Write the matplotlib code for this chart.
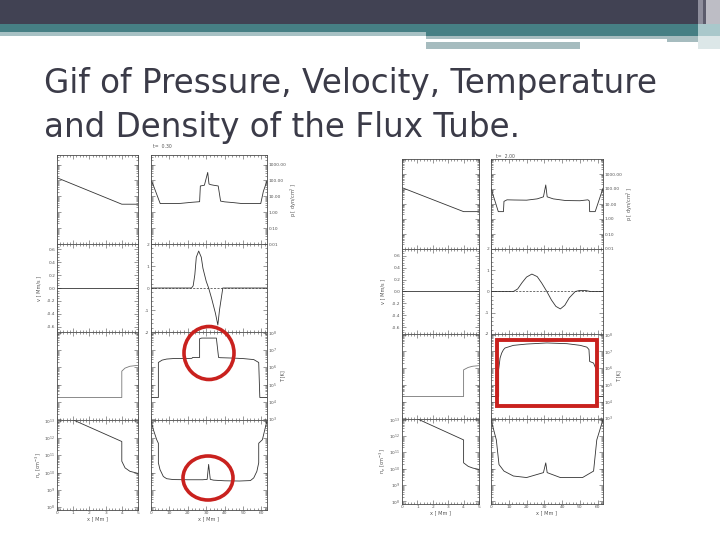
import numpy as np
import matplotlib
matplotlib.use("Agg")
import matplotlib.pyplot as plt
from matplotlib.patches import Rectangle, Ellipse
from matplotlib.ticker import (AutoMinorLocator, LogLocator, FixedLocator, FuncFormatter,
                               LogFormatterMathtext, MultipleLocator)

W, H = 720, 540

# ---------------- data (x in Mm) ----------------
# t = 0.30, chromosphere zoom (0-5 Mm)
x_p_zoom_a = [0, 4, 5]
p_zoom_a = [148, 3.2, 3.2]
x_v_zoom_a = [0, 5]
v_zoom_a = [0, 0]
x_T_zoom_a = [0, 4, 4, 4.2, 4.5, 5]
T_zoom_a = [1.8e4, 1.8e4, 6e5, 9e5, 1.15e6, 1.3e6]
x_n_zoom_a = [0, 4, 4, 4.2, 4.5, 5]
n_zoom_a = [2.9e13, 6.3e11, 4.6e10, 1.9e10, 1.2e10, 9.1e9]

# t = 0.30, full loop
x_p_a = [0, 1, 5, 10, 16, 22, 26.4, 26.8, 29, 30.8, 31.5, 32.2, 34, 36.5, 37.8, 40, 45, 49.5, 55, 59.6, 61, 63]
p_a = [95, 60, 3.5, 3.5, 3.6, 4.2, 4.6, 45, 50, 320, 60, 55, 50, 45, 5, 4.5, 4, 3.5, 3.5, 3.5, 20, 95]
x_v_a = [0, 22, 22.9, 23.8, 24.6, 25.9, 27.3, 28.2, 30, 31.3, 33, 35, 36.3, 37.2, 38.2, 39, 63]
v_a = [0, 0, 0.1, 0.6, 1.4, 1.68, 1.4, 0.9, 0.3, 0, -0.5, -1.15, -1.68, -1.0, -0.45, 0, 0]
x_T_a = [0, 4, 4, 6, 8.5, 12, 18, 22.2, 22.6, 26.4, 26.4, 27.5, 35.5, 36.7, 37.6, 45, 50, 55.8, 58.5, 59.1, 63]
T_a = [1.8e4, 1.8e4, 1.9e6, 2.6e6, 3.0e6, 3.2e6, 3.2e6, 3.3e6, 3.7e6, 3.7e6, 4.5e7, 4.9e7, 4.9e7,
       3.7e6, 3.6e6, 3.4e6, 3.2e6, 2.8e6, 1.9e6, 1.8e4, 1.8e4]
x_n_a = [0, 1.3, 3.1, 4, 4, 4.9, 6.7, 8.5, 12, 20, 28, 30.5, 31.3, 32.2, 34, 40, 48, 54, 55.8, 57.5, 58.5, 58.5,
         60.5, 61.8, 63]
n_a = [1e13, 3e12, 8e11, 5e11, 3.7e10, 1.5e10, 6e9, 4.5e9, 4e9, 3.9e9, 3.9e9, 4.1e9, 3e10, 4.1e9, 3.7e9,
       3.4e9, 3.3e9, 3.5e9, 5e9, 1.2e10, 3.7e10, 5e11, 8e11, 3e12, 1e13]

# t = 2.00, chromosphere zoom (0-5 Mm)
x_p_zoom_b = [0, 4, 5]
p_zoom_b = [123, 3.1, 3.1]
x_v_zoom_b = [0, 5]
v_zoom_b = [0, 0]
x_T_zoom_b = [0, 4, 4, 4.3, 4.6, 5]
T_zoom_b = [2e4, 2e4, 7.9e5, 1.1e6, 1.3e6, 1.4e6]
x_n_zoom_b = [0, 4, 4, 4.3, 4.6, 5]
n_zoom_b = [3e13, 5.8e11, 2.3e10, 1.4e10, 1.1e10, 9.1e9]

# t = 2.00, full loop
x_p_b = [0, 4.1, 7, 7.3, 9, 13, 20, 26, 29.5, 30.8, 31.6, 35, 42, 50, 54.5, 55.3, 55.5, 58.6, 63]
p_b = [112, 3.1, 3.1, 15, 19, 18.5, 18, 22, 30, 186, 30, 22, 17, 16.5, 19, 16, 3.1, 3.1, 112]
x_v_b = [0, 12.6, 15, 17.5, 20, 23, 26, 28.5, 31.4, 34, 36.5, 39, 41.5, 44, 47.4, 50, 53, 56, 63]
v_b = [0, 0, 0.12, 0.42, 0.68, 0.82, 0.7, 0.4, 0, -0.4, -0.7, -0.82, -0.65, -0.3, 0, 0.05, 0.05, 0, 0]
x_T_b = [0, 4.3, 4.3, 5.1, 6, 7, 7.9, 12.6, 20, 31.4, 42.7, 50.2, 53.9, 55.1, 55.5, 57.7, 59.2, 59.2, 63]
T_b = [2e4, 2e4, 7.9e5, 4e6, 7.9e6, 1.26e7, 1.6e7, 2.3e7, 2.75e7, 3.2e7, 2.9e7, 2.3e7, 1.8e7, 1.3e7,
       2.5e6, 2e6, 8e5, 2e4, 2e4]
x_n_b = [0, 3, 4.5, 7.3, 12.6, 20, 29.5, 30.8, 31.6, 39, 51.5, 57.7, 59.5, 63]
n_b = [1e13, 5.8e11, 1.8e10, 7.2e9, 3.6e9, 2.9e9, 5.8e9, 2.3e10, 5.8e9, 2.9e9, 2.9e9, 7.2e9, 5.8e11, 1e13]

title_lines = ["Gif of Pressure, Velocity, Temperature", "and Density of the Flux Tube."]
time_labels = ["t=  0.30", "t=  2.00"]
p_ticks = [0.01, 0.1, 1, 10, 100, 1000]

LINE = "#333333"
SPINE = "#4a4a4a"
TXT = "#555555"
RED = "#c9211e"


def box(x0, y0, x1, y1):
    return [x0 / W, 1 - y1 / H, (x1 - x0) / W, (y1 - y0) / H]


def style(ax, xlim, ylim, log, xmajor):
    ax.set_xlim(*xlim)
    if log:
        ax.set_yscale("log")
        ax.yaxis.set_major_locator(LogLocator(base=10, numticks=20))
        ax.yaxis.set_minor_locator(LogLocator(base=10, subs=np.arange(2, 10), numticks=20))
    else:
        ax.yaxis.set_minor_locator(AutoMinorLocator(5))
    ax.set_ylim(*ylim)
    ax.xaxis.set_major_locator(MultipleLocator(xmajor))
    ax.xaxis.set_minor_locator(AutoMinorLocator(5))
    ax.tick_params(which="both", direction="in", top=True, right=True, left=True, bottom=True,
                   labelbottom=False, labelleft=False, color=SPINE, width=0.4,
                   labelsize=3.2, labelcolor=TXT, pad=1)
    ax.tick_params(which="major", length=2.6)
    ax.tick_params(which="minor", length=1.3)
    for s in ax.spines.values():
        s.set_color(SPINE)
        s.set_linewidth(0.6)
    ax.set_facecolor("white")


def draw_set(fig, colL, colR, rows, p_top, v_zoom_lim, zoom_data, full_data, tlabel, tpos, lab_x):
    xp, p, xv, v, xT, T, xn, n = zoom_data
    Xp, P, Xv, V, XT, TT, Xn, N = full_data
    axes = []
    for r in range(4):
        aL = fig.add_axes(box(colL[0], rows[r], colL[1], rows[r + 1]))
        aR = fig.add_axes(box(colR[0], rows[r], colR[1], rows[r + 1]))
        axes.append((aL, aR))

    # pressure
    aL, aR = axes[0]
    for a, xx, yy, xl, xm in [(aL, xp, p, (0, 5), 1), (aR, Xp, P, (0, 63), 10)]:
        style(a, xl, (0.01, p_top), True, xm)
        a.plot(xx, yy, color=LINE, lw=0.6)
    aR.yaxis.set_major_locator(FixedLocator(p_ticks))
    aR.yaxis.set_major_formatter(FuncFormatter(lambda val, pos: "%.2f" % val))
    aR.tick_params(labelright=True)
    aR.set_ylabel("p [ dyn/cm$^2$ ]", fontsize=3.6, color=TXT, labelpad=2)
    aR.yaxis.set_label_position("right")

    # velocity
    aL, aR = axes[1]
    style(aL, (0, 5), (-v_zoom_lim, v_zoom_lim), False, 1)
    aL.yaxis.set_major_locator(MultipleLocator(0.2))
    aL.yaxis.set_major_formatter(FuncFormatter(lambda val, pos: "%.1f" % val))
    aL.tick_params(labelleft=True)
    aL.plot(xv, v, color=LINE, lw=0.6)
    style(aR, (0, 63), (-2, 2), False, 10)
    aR.yaxis.set_major_locator(MultipleLocator(1))
    aR.yaxis.set_major_formatter(FuncFormatter(lambda val, pos: "%d" % round(val)))
    aR.tick_params(labelleft=True)
    aR.axhline(0, color=LINE, lw=0.5, ls=(0, (3, 2)))
    aR.plot(Xv, V, color=LINE, lw=0.6)

    # temperature
    aL, aR = axes[2]
    style(aL, (0, 5), (0.9e3, 1.1e8), True, 1)
    aL.plot(xT, T, color="#777777", lw=0.6)
    style(aR, (0, 63), (0.9e3, 1.1e8), True, 10)
    aR.plot(XT, TT, color=LINE, lw=0.6)
    aR.yaxis.set_major_formatter(LogFormatterMathtext())
    aR.tick_params(labelright=True)
    aR.set_ylabel("T [K]", fontsize=3.6, color=TXT, labelpad=2)
    aR.yaxis.set_label_position("right")

    # density
    aL, aR = axes[3]
    style(aL, (0, 5), (7e7, 1.1e13), True, 1)
    aL.plot(xn, n, color=LINE, lw=0.6)
    aL.yaxis.set_major_formatter(LogFormatterMathtext())
    aL.tick_params(labelleft=True, labelbottom=True)
    style(aR, (0, 63), (7e7, 1.1e13), True, 10)
    aR.plot(Xn, N, color=LINE, lw=0.6)
    aR.tick_params(labelbottom=True)
    for a in (aL, aR):
        a.set_xlabel("x [ Mm ]", fontsize=3.6, color=TXT, labelpad=1)

    fig.text(lab_x / W, 1 - (rows[1] + rows[2]) / 2 / H, "v [ Mm/s ]", rotation=90,
             fontsize=3.6, color=TXT, ha="center", va="center")
    fig.text(lab_x / W, 1 - (rows[3] + rows[4]) / 2 / H, "n$_e$ [cm$^{-3}$]", rotation=90,
             fontsize=3.6, color=TXT, ha="center", va="center")
    fig.text(tpos[0] / W, 1 - tpos[1] / H, tlabel, fontsize=3.3, color=TXT, va="center")


fig = plt.figure(figsize=(7.2, 5.4), dpi=100)

# slide background, header bars and title
bg = fig.add_axes([0, 0, 1, 1])
bg.set_xlim(0, W)
bg.set_ylim(H, 0)
bg.axis("off")
header = [
    (0, 0, 698, 24, "#414253"),
    (0, 24, 698, 8, "#467f84"),
    (0, 32, 426, 3.7, "#a7c1c4"),
    (426, 32, 272, 4, "#467f84"),
    (426, 36, 241, 2.5, "#a6bcbf"),
    (667, 36, 31, 6, "#a6bcbf"),
    (426, 42, 154, 6.5, "#a6bcbf"),
    (698, 0, 5, 24, "#8e8e9c"),
    (703, 0, 3, 24, "#5c5c6c"),
    (706, 0, 14, 24, "#bdbdc5"),
    (698, 24, 22, 12, "#a9c8cb"),
    (698, 36, 22, 13, "#dce7e8"),
]
for x0, y0, w, h, c in header:
    bg.add_patch(Rectangle((x0, y0), w, h, facecolor=c, edgecolor="none"))
for i, line in enumerate(title_lines):
    bg.text(44, 93 + 44 * i, line, fontsize=23.5, color="#3b3b48", ha="left", va="baseline",
            family="DejaVu Sans")

draw_set(fig, (57, 138), (151, 267), [155, 244, 332, 420, 510], 4000, 0.68,
         (x_p_zoom_a, p_zoom_a, x_v_zoom_a, v_zoom_a, x_T_zoom_a, T_zoom_a, x_n_zoom_a, n_zoom_a),
         (x_p_a, p_a, x_v_a, v_a, x_T_a, T_a, x_n_a, n_a),
         time_labels[0], (153, 147), 39)
draw_set(fig, (402, 479), (491, 603), [159, 249, 334, 419, 504], 1e4, 0.71,
         (x_p_zoom_b, p_zoom_b, x_v_zoom_b, v_zoom_b, x_T_zoom_b, T_zoom_b, x_n_zoom_b, n_zoom_b),
         (x_p_b, p_b, x_v_b, v_b, x_T_b, T_b, x_n_b, n_b),
         time_labels[1], (496, 156), 383)

# red highlight marks on top
ov = fig.add_axes([0, 0, 1, 1])
ov.set_xlim(0, W)
ov.set_ylim(H, 0)
ov.axis("off")
ov.patch.set_alpha(0)
ov.add_patch(Ellipse((209, 353), 50, 53, fill=False, edgecolor=RED, lw=2.6))
ov.add_patch(Ellipse((208, 478), 50, 44, fill=False, edgecolor=RED, lw=2.6))
ov.add_patch(Rectangle((497, 340), 100, 66, fill=False, edgecolor=RED, lw=2.8))

fig.savefig("out.png", dpi=100)
